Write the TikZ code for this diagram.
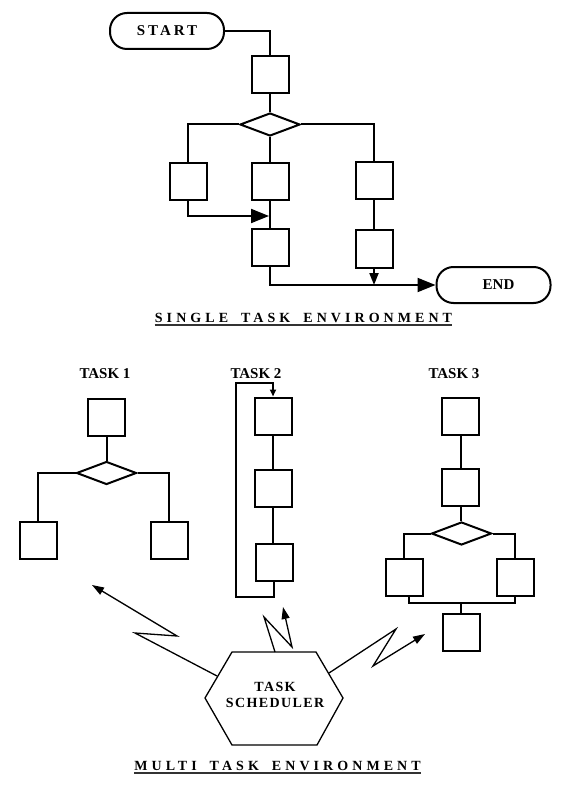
\documentclass[tikz,border=0pt]{standalone}
\usepackage{fontspec}
\setmainfont{Liberation Serif}[BoldFont={Liberation Serif Bold}]
\usetikzlibrary{arrows.meta,shapes.geometric}
\newcommand{\labfont}{\bfseries\fontsize{15}{17}\selectfont}
\newcommand{\startfont}{\bfseries\fontsize{15}{17}\selectfont\addfontfeatures{LetterSpace=20}}
\newcommand{\titlefont}{\bfseries\fontsize{14}{16}\selectfont\addfontfeatures{LetterSpace=29}}
\newcommand{\schedfont}{\bfseries\fontsize{14}{16}\selectfont\addfontfeatures{LetterSpace=10}}
\newcommand{\wgap}{\hspace{13pt}}
\begin{document}
\begin{tikzpicture}[x=1pt,y=-1pt,
  flow/.style={line width=2pt},
  box/.style={draw, line width=2pt, minimum width=37pt, minimum height=37pt, inner sep=0pt},
  dec/.style={draw, diamond, line width=2pt, minimum width=60pt, minimum height=23pt, inner sep=0pt},
  term/.style={draw, line width=2pt, rounded corners=17pt, minimum width=114pt, minimum height=36pt, inner sep=0pt},
  tasklab/.style={inner sep=0pt, anchor=base, font=\labfont},
  title/.style={inner sep=0pt, anchor=base, font=\titlefont},
  uline/.style={line width=1.3pt, black!80},
  bigarrow/.style={flow, -{Triangle[length=18pt,width=14pt]}},
  smallarrow/.style={flow, -{Triangle[length=12pt,width=9pt]}},
  tinyarrow/.style={flow, -{Triangle[length=7pt,width=6pt]}},
  zig/.style={line width=1.3pt, -{Triangle[length=12pt,width=8pt]}},
  hex/.style={line width=1.3pt, line join=miter}
]
\useasboundingbox (0,0) rectangle (563,791);

% ---------- single task environment ----------
\node[term, font=\startfont] (start) at (167,31) {START};
\node[box] (b1) at (270,74.5) {};
\node[dec] (d1) at (270,124.5) {};
\node[box] (L1) at (188,182) {};
\node[box] (M1) at (270,182) {};
\node[box] (R1) at (374,181) {};
\node[box] (M2) at (270,247.5) {};
\node[box] (R2) at (374,249) {};
\node[term, font=\labfont] (end) at (493.5,285) {\hspace*{10pt}END};
\coordinate (j1) at (269,216);

\draw[flow] (start.east) -| (b1.north);
\draw[flow] (b1.south) -- (d1.north);
\draw[flow] (d1.west) -| (L1.north);
\draw[flow] (d1.south) -- (M1.north);
\draw[flow] (d1.east) -| (R1.north);
\draw[bigarrow] (L1.south) |- (j1);
\draw[flow] (M1.south) -- (M2.north);
\draw[flow] (R1.south) -- (R2.north);
\draw[bigarrow] (M2.south) |- (end.west);
\draw[smallarrow] (R2.south) -- (R2.south |- end.west);

\node[title] (st) at (303.5,322.5) {SINGLE\wgap TASK\wgap ENVIRONMENT};
\draw[uline] ([yshift=-2.5pt]st.base west) -- ([yshift=-2.5pt]st.base east);

% ---------- task 1 ----------
\node[tasklab] (t1) at (105,378) {TASK 1};
\node[box] (T1b) at (106.5,417.5) {};
\node[dec] (T1d) at (106.5,473) {};
\node[box] (T1L) at (38,540) {};
\node[box] (T1R) at (169,540) {};
\draw[flow] (T1b.south) -- (T1d.north);
\draw[flow] (T1d.west) -| (T1L.north);
\draw[flow] (T1d.east) -| (T1R.north);

% ---------- task 2 ----------
\node[tasklab] (t2) at (256,378) {TASK 2};
\node[box] (T2a) at (273,416) {};
\node[box] (T2b) at (273,488.5) {};
\node[box] (T2c) at (274,562) {};
\coordinate (l1) at (236,597);
\coordinate (l2) at (273,383);
\draw[flow] (T2a.south) -- (T2b.north);
\draw[flow] (T2b.south) -- (T2b.south |- T2c.north);
\draw[tinyarrow] (T2c.south) |- (l1) |- (l2) -- (T2a.north);

% ---------- task 3 ----------
\node[tasklab] (t3) at (454,378) {TASK 3};
\node[box] (T3a) at (460.5,416) {};
\node[box] (T3b) at (460.5,487) {};
\node[dec] (T3d) at (461.5,533.5) {};
\node[box] (T3L) at (404,577) {};
\node[box] (T3R) at (515,577) {};
\node[box] (T3c) at (461,632.5) {};
\coordinate (m3) at (461,603);
\draw[flow] (T3a.south) -- (T3b.north);
\draw[flow] (T3b.south) -- (T3b.south |- T3d.north);
\draw[flow] (T3d.west) -| (T3L.north);
\draw[flow] (T3d.east) -| (T3R.north);
\draw[flow] ([xshift=5pt]T3L.south) |- (m3) -| (T3R.south);
\draw[flow] (m3) -- (T3c.north);

% ---------- task scheduler ----------
\coordinate (h1) at (232,652);
\coordinate (h2) at (316,652);
\coordinate (h3) at (343,698);
\coordinate (h4) at (317,745);
\coordinate (h5) at (232,745);
\coordinate (h6) at (205,698);
\draw[hex] (h1) -- (h2) -- (h3) -- (h4) -- (h5) -- (h6) -- cycle;
\node[align=center, inner sep=0pt, font=\schedfont] (sched) at (275,695) {TASK\\SCHEDULER};

\coordinate (z1s) at (217,676);
\coordinate (z1a) at (135,633);
\coordinate (z1b) at (177,636);
\coordinate (z1t) at (92,585);
\draw[zig] (z1s) -- (z1a) -- (z1b) -- (z1t);

\coordinate (z2s) at (275,652);
\coordinate (z2a) at (264,617);
\coordinate (z2b) at (292,647);
\coordinate (z2t) at (283,607);
\draw[zig] (z2s) -- (z2a) -- (z2b) -- (z2t);

\coordinate (z3s) at (329,673);
\coordinate (z3a) at (396,629);
\coordinate (z3b) at (373,666);
\coordinate (z3t) at (425,634);
\draw[zig] (z3s) -- (z3a) -- (z3b) -- (z3t);

\node[title] (mt) at (277.5,770.5) {MULTI\wgap TASK\wgap ENVIRONMENT};
\draw[uline] ([yshift=-2.5pt]mt.base west) -- ([yshift=-2.5pt]mt.base east);
\end{tikzpicture}
\end{document}
